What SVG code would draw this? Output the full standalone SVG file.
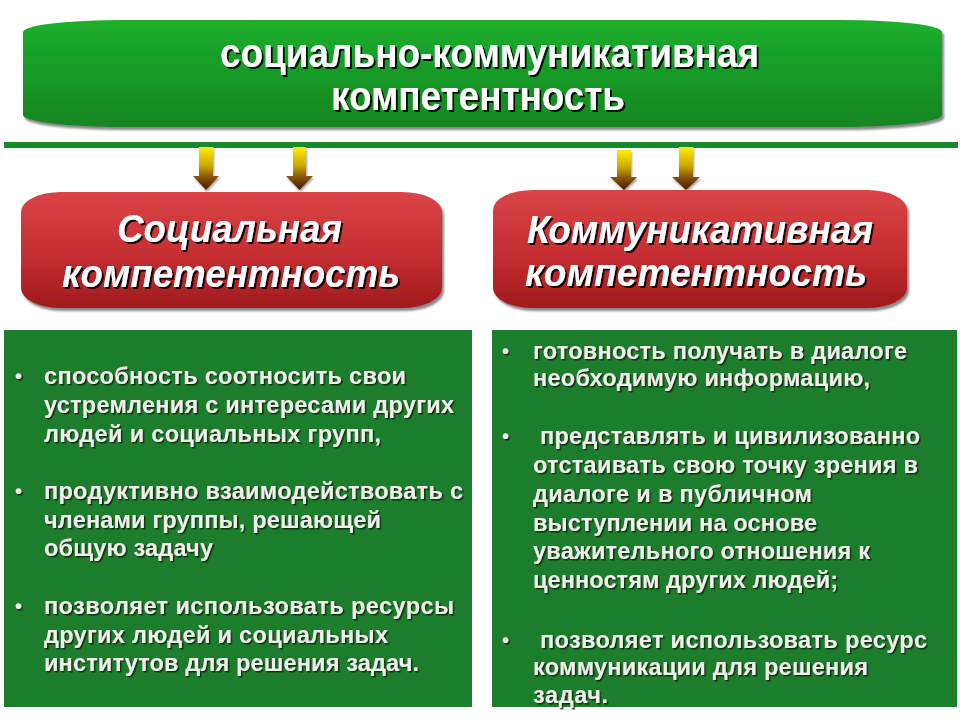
<svg xmlns="http://www.w3.org/2000/svg" width="960" height="720" viewBox="0 0 960 720">
  <defs>
    <linearGradient id="gBanner" x1="0" y1="0" x2="0" y2="1">
      <stop offset="0" stop-color="#1cae2d"/>
      <stop offset="1" stop-color="#128620"/>
    </linearGradient>
    <linearGradient id="gRed" x1="0" y1="0" x2="0" y2="1">
      <stop offset="0" stop-color="#da4448"/>
      <stop offset="0.55" stop-color="#c42d31"/>
      <stop offset="1" stop-color="#9f1a1c"/>
    </linearGradient>
    <linearGradient id="gArrow" x1="0" y1="0" x2="0" y2="1">
      <stop offset="0" stop-color="#fff000"/>
      <stop offset="0.45" stop-color="#c9a400"/>
      <stop offset="0.68" stop-color="#8a5a08"/>
      <stop offset="1" stop-color="#4a1a00"/>
    </linearGradient>
    <filter id="boxShadow" x="-5%" y="-10%" width="112%" height="125%">
      <feDropShadow dx="2" dy="3" stdDeviation="1.2" flood-color="#555" flood-opacity="0.7"/>
    </filter>
    <filter id="arrowShadow" x="-30%" y="-10%" width="160%" height="130%">
      <feDropShadow dx="1" dy="2" stdDeviation="1" flood-color="#666" flood-opacity="0.6"/>
    </filter>
    <filter id="txtShadow" x="-5%" y="-20%" width="110%" height="150%">
      <feDropShadow dx="2" dy="2" stdDeviation="0.4" flood-color="#000" flood-opacity="0.85"/>
    </filter>
    <filter id="bodyShadow" x="-5%" y="-20%" width="110%" height="150%">
      <feDropShadow dx="1.5" dy="1.5" stdDeviation="0.4" flood-color="#0a2a0a" flood-opacity="0.9"/>
    </filter>
  </defs>
  <style>
    .title { font-family: "Liberation Sans", Arial, sans-serif; font-weight: bold; font-size: 40px; fill: #ffffff; }
    .head { font-family: "Liberation Sans", Arial, sans-serif; font-weight: bold; font-style: italic; font-size: 38px; fill: #ffffff; }
    .body { font-family: "Liberation Sans", Arial, sans-serif; font-weight: bold; font-size: 23.5px; fill: #f0f0ea; }
    .bullet { font-family: "Liberation Sans", Arial, sans-serif; font-weight: bold; font-size: 20px; fill: #f0f0ea; }
    .panel { fill: #1c7e2d; }
  </style>

  <rect x="0" y="0" width="960" height="720" fill="#ffffff"/>

  <g id="banner">
    <rect x="23" y="20" width="919" height="107" rx="100" ry="12" fill="url(#gBanner)" filter="url(#boxShadow)"/>
    <g filter="url(#txtShadow)">
      <text class="title" x="220" y="67" textLength="539" lengthAdjust="spacingAndGlyphs">социально-коммуникативная</text>
      <text class="title" x="331" y="110" textLength="294" lengthAdjust="spacingAndGlyphs">компетентность</text>
    </g>
  </g>

  <g id="divider">
    <rect x="4" y="142" width="954" height="6" fill="#168a2a"/>
  </g>

  <g id="connectors" fill="url(#gArrow)" filter="url(#arrowShadow)">
    <path d="M199,147 H213 V176 H219 L206,190 L193,176 H199 Z"/>
    <path d="M293,147 H306 V176 H313 L299.5,190 L286,176 H293 Z"/>
    <path d="M617,150 H631 V177 H637 L624,190 L610,177 H617 Z"/>
    <path d="M679,147 H693 V177 H700 L686,190 L672,177 H679 Z"/>
  </g>

  <g id="social">
    <rect x="21" y="192" width="421" height="116" rx="40" ry="20" fill="url(#gRed)" filter="url(#boxShadow)"/>
    <g filter="url(#txtShadow)">
      <text class="head" x="117" y="242" textLength="225" lengthAdjust="spacingAndGlyphs">Социальная</text>
      <text class="head" x="62" y="287" textLength="338" lengthAdjust="spacingAndGlyphs">компетентность</text>
    </g>
  </g>

  <g id="communicative">
    <rect x="493" y="190" width="414" height="118" rx="40" ry="20" fill="url(#gRed)" filter="url(#boxShadow)"/>
    <g filter="url(#txtShadow)">
      <text class="head" x="527" y="243" textLength="346" lengthAdjust="spacingAndGlyphs">Коммуникативная</text>
      <text class="head" x="525" y="286" textLength="342" lengthAdjust="spacingAndGlyphs">компетентность</text>
    </g>
  </g>

  <g id="social-list">
    <rect class="panel" x="4" y="330" width="468" height="377"/>
    <g filter="url(#bodyShadow)">
      <text class="bullet" x="15" y="383">•</text>
      <text class="body" x="44" y="384" textLength="362" lengthAdjust="spacing">способность соотносить свои</text>
      <text class="body" x="44" y="413" textLength="410" lengthAdjust="spacing">устремления с интересами других</text>
      <text class="body" x="44" y="442" textLength="337" lengthAdjust="spacing">людей и социальных групп,</text>
      <text class="bullet" x="15" y="498">•</text>
      <text class="body" x="44" y="499" textLength="419" lengthAdjust="spacing">продуктивно взаимодействовать с</text>
      <text class="body" x="44" y="528" textLength="337" lengthAdjust="spacing">членами группы, решающей</text>
      <text class="body" x="44" y="556" textLength="169" lengthAdjust="spacing">общую задачу</text>
      <text class="bullet" x="15" y="613">•</text>
      <text class="body" x="44" y="614" textLength="410" lengthAdjust="spacing">позволяет использовать ресурсы</text>
      <text class="body" x="44" y="643" textLength="344" lengthAdjust="spacing">других людей и социальных</text>
      <text class="body" x="44" y="671" textLength="375" lengthAdjust="spacing">институтов для решения задач.</text>
    </g>
  </g>

  <g id="communicative-list">
    <rect class="panel" x="492" y="330" width="465" height="377"/>
    <g filter="url(#bodyShadow)">
      <text class="bullet" x="502" y="358">•</text>
      <text class="body" x="533" y="359" textLength="374" lengthAdjust="spacing">готовность получать в диалоге</text>
      <text class="body" x="533" y="386" textLength="337" lengthAdjust="spacing">необходимую информацию,</text>
      <text class="bullet" x="502" y="443">•</text>
      <text class="body" x="540" y="444" textLength="380" lengthAdjust="spacing">представлять и цивилизованно</text>
      <text class="body" x="533" y="473" textLength="385" lengthAdjust="spacing">отстаивать свою точку зрения в</text>
      <text class="body" x="533" y="502" textLength="279" lengthAdjust="spacing">диалоге и в публичном</text>
      <text class="body" x="533" y="531" textLength="284" lengthAdjust="spacing">выступлении на основе</text>
      <text class="body" x="533" y="559" textLength="337" lengthAdjust="spacing">уважительного отношения к</text>
      <text class="body" x="533" y="588" textLength="305" lengthAdjust="spacing">ценностям других людей;</text>
      <text class="bullet" x="502" y="647">•</text>
      <text class="body" x="540" y="648" textLength="387" lengthAdjust="spacing">позволяет использовать ресурс</text>
      <text class="body" x="533" y="675" textLength="335" lengthAdjust="spacing">коммуникации для решения</text>
      <text class="body" x="533" y="703" textLength="75" lengthAdjust="spacing">задач.</text>
    </g>
  </g>
</svg>
